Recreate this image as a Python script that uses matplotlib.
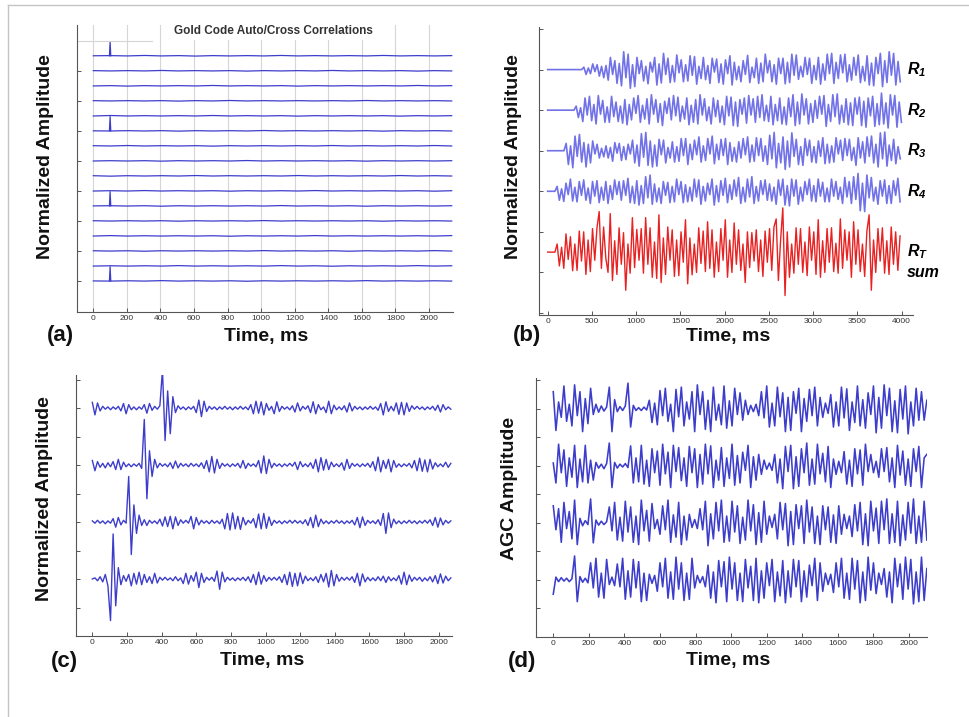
import numpy as np
import matplotlib
matplotlib.use('Agg')
import matplotlib.pyplot as plt
from matplotlib.lines import Line2D

plt.rcParams['font.family'] = ['Liberation Sans', 'DejaVu Sans']
plt.rcParams['mathtext.fontset'] = 'custom'
plt.rcParams['mathtext.it'] = 'Liberation Sans:italic:bold'
plt.rcParams['mathtext.rm'] = 'Liberation Sans:italic:bold'
plt.rcParams['mathtext.bf'] = 'Liberation Sans:italic:bold'

# ======================= DATA =======================
# (a) Gold code auto/cross correlations: 16 traces, small residual wiggle
#     (hundredths of trace spacing), auto-correlation peaks on 4 rows
gold_title = 'Gold Code Auto/Cross Correlations'
gold_end_ms = 2135
gold_peak_rows = [0, 5, 10, 15]
gold_peak_ms = 100
gold_peak_height = 0.95
gold_xticks = list(range(0, 2001, 200))
gold_wiggle = [
    [0, 1, -1, 2, -1, 1, -2, 1, -1, 1, -1, 2, -1, 1, -1, 1, -1, 2, -1, 1, -1, 1],
    [1, -1, 1, -1, 2, -1, 1, -1, 1, -2, 1, -1, 1, -1, 2, -1, 1, -1, 1, -2, 1, -1],
    [-1, 1, -2, 1, -1, 1, -1, 2, -1, 1, -1, 1, -2, 1, -1, 1, -1, 1, -1, 2, -1, 1],
    [1, -1, 1, -1, 1, -2, 1, -1, 2, -1, 1, -1, 1, -1, 1, -1, 2, -1, 1, -1, 1, -1],
    [-1, 2, -1, 1, -1, 1, -1, 2, -1, 1, -1, 1, -2, 1, -1, 1, -1, 1, -2, 1, -1, 1],
    [0, -1, 1, -1, 1, -2, 1, -1, 1, -1, 2, -1, 1, -1, 1, -1, 1, -2, 1, -1, 1, -1],
    [1, -1, 2, -1, 1, -1, 1, -2, 1, -1, 1, -1, 1, -1, 2, -1, 1, -1, 1, -1, 2, -1],
    [-1, 1, -1, 1, -2, 1, -1, 1, -1, 2, -1, 1, -1, 1, -1, 1, -2, 1, -1, 1, -1, 1],
    [1, -2, 1, -1, 1, -1, 2, -1, 1, -1, 1, -1, 2, -1, 1, -1, 1, -1, 2, -1, 1, -1],
    [-1, 1, -1, 2, -1, 1, -1, 1, -2, 1, -1, 1, -1, 2, -1, 1, -1, 1, -1, 1, -2, 1],
    [0, 1, -1, 1, -2, 1, -1, 1, -1, 1, -1, 2, -1, 1, -1, 1, -2, 1, -1, 1, -1, 1],
    [1, -1, 1, -1, 1, -2, 1, -1, 1, -1, 2, -1, 1, -1, 1, -1, 1, -2, 1, -1, 1, -1],
    [-1, 2, -1, 1, -1, 1, -1, 1, -2, 1, -1, 1, -1, 2, -1, 1, -1, 1, -1, 1, -1, 2],
    [1, -1, 1, -2, 1, -1, 1, -1, 1, -1, 2, -1, 1, -1, 1, -2, 1, -1, 1, -1, 2, -1],
    [-1, 1, -1, 1, -1, 2, -1, 1, -1, 1, -1, 2, -1, 1, -2, 1, -1, 1, -1, 2, -1, 1],
    [0, -1, 1, -1, 2, -1, 1, -1, 1, -2, 1, -1, 1, -1, 1, -1, 2, -1, 1, -1, 1, -1],
]

# (b) four receiver traces R1..R4 and their sum RT (hundredths of tick spacing)
b_labels = ['$R_1$', '$R_2$', '$R_3$', '$R_4$', '$R_T$']
b_sum_label = 'sum'
b_start_ms = [384, 297, 184, 82, 82]
b_step_ms = 25
b_xticks = list(range(0, 4001, 500))
r1 = [0, 6, -12, 4, -10, 14, -5, 12, -16, 8,
      -20, 10, -26, 30, -12, 22, -34, 15, -40, 44,
      -20, 38, -46, 12, -42, 30, -10, 22, -28, 8,
      -35, 18, -6, 30, -38, 14, -33, 40, -12, 28,
      -32, 10, -30, 36, -8, 24, -30, 12, -28, 34,
      -14, 32, -36, 8, -22, 30, -25, 10, -34, 28,
      -6, 26, -32, 14, -36, 24, -10, 34, -38, 18,
      -25, 8, -30, 22, -12, 35, -32, 6, -20, 28,
      -34, 16, -30, 38, -8, 22, -30, 12, -36, 28,
      -10, 28, -35, 18, -32, 38, -14, 36, -24, 8,
      -18, 30, -12, 28, -34, 10, -25, 30, -36, 14,
      -26, 38, -10, 40, -34, 18, -22, 36, -8, 38,
      -30, 12, -26, 30, -14, 36, -32, 8, -28, 34,
      -38, 16, -40, 30, -10, 40, -42, 22, -32, 44,
      -14, 40, -38, 20, -30]
r2 = [0, 10, -18, 6, -28, 30, -12, 34, -26, 14,
      -34, 36, -10, 24, -30, 8, -30, 34, -16, 20,
      -28, 10, -32, 26, -36, 14, -24, 30, -8, 36,
      -30, 12, -22, 28, -34, 38, -10, 26, -30, 16,
      -38, 22, -8, 30, -24, 36, -14, 32, -28, 10,
      -22, 30, -36, 12, -30, 26, -34, 38, -12, 28,
      -26, 8, -34, 30, -16, 24, -30, 10, -36, 34,
      -14, 32, -38, 20, -40, 26, -10, 30, -32, 36,
      -12, 28, -30, 34, -18, 38, -26, 12, -28, 34,
      -36, 14, -26, 30, -34, 8, -36, 30, -16, 38,
      -38, 20, -34, 40, -12, 28, -34, 16, -30, 24,
      -20, 34, -10, 36, -40, 14, -28, 38, -16, 40,
      -34, 12, -30, 28, -36, 18, -38, 30, -10, 32,
      -38, 22, -42, 30, -14, 34, -40, 16, -36, 42,
      -34, 18, -44, 38, -12, 36, -42, 20, -30]
r3 = [0, 18, -34, 12, -42, 36, -14, 40, -28, 20,
      -40, 16, -30, 24, -8, 16, -18, 6, -15, 12,
      -18, 8, -26, 20, -6, 18, -24, 10, -22, 16,
      -8, 26, -30, 14, -38, 42, -16, 45, -36, 24,
      -40, 14, -38, 28, -10, 26, -30, 8, -18, 22,
      -28, 10, -26, 30, -12, 30, -34, 16, -22, 26,
      -10, 34, -28, 12, -24, 30, -8, 36, -32, 16,
      -22, 28, -12, 30, -34, 20, -26, 8, -28, 22,
      -18, 30, -10, 34, -28, 14, -26, 32, -12, 30,
      -26, 12, -34, 38, -20, 45, -42, 18, -30, 34,
      -46, 24, -40, 44, -14, 28, -34, 10, -36, 30,
      -12, 26, -28, 10, -30, 24, -14, 32, -32, 16,
      -30, 12, -28, 32, -8, 26, -24, 30, -12, 28,
      -24, 8, -36, 32, -18, 22, -30, 34, -14, 36,
      -30, 16, -40, 44, -20, 46, -38, 14, -24, 28,
      -32, 10, -20]
r4 = [0, 12, -22, 6, -25, 20, -8, 30, -24, 10,
      -26, 24, -10, 28, -22, 8, -30, 24, -12, 26,
      -28, 10, -22, 24, -30, 14, -20, 28, -8, 24,
      -22, 26, -10, 32, -28, 12, -30, 26, -34, 14,
      -30, 36, -16, 40, -32, 18, -26, 8, -30, 24,
      -10, 22, -28, 12, -26, 30, -8, 24, -28, 16,
      -26, 10, -24, 30, -14, 28, -32, 12, -24, 20,
      -8, 30, -34, 14, -26, 26, -10, 32, -28, 16,
      -20, 28, -12, 34, -30, 10, -26, 30, -14, 36,
      -30, 12, -24, 26, -8, 28, -22, 18, -24, 10,
      -32, 28, -10, 30, -34, 14, -36, 30, -12, 28,
      -32, 10, -24, 24, -8, 30, -24, 14, -26, 30,
      -12, 22, -26, 8, -26, 30, -12, 24, -20, 10,
      -30, 34, -14, 24, -30, 36, -20, 44, -48, 20,
      -50, 40, -16, 34, -24, 10, -32, 26, -12, 28,
      -30, 14, -30, 26, -10, 32, -26]
rt = [0, 20, -34, 12, -40, 45, -18, 38, -46, 20,
      -45, 52, -22, 50, -55, 30, -48, 58, -20, 60,
      100, -40, 62, -15, -50, 95, -70, 28, -55, 60,
      -30, 48, -94, 20, -52, 85, -38, 56, -20, 58,
      -52, 85, -30, 60, -62, 25, -65, 92, -75, 35,
      -55, 62, -20, 55, -60, 30, -58, 50, -25, 80,
      -78, 35, -56, 20, -50, 60, -28, 52, -48, 75,
      -40, 55, -62, 25, -48, 58, -20, 80, -62, 30,
      -50, 72, -30, 55, -45, 20, -75, 50, -38, 48,
      -22, 55, -48, 30, -60, 52, -25, 58, -45, 62,
      82, -70, 30, 109, -107, 50, -62, 20, -52, 60,
      -30, 58, -50, 25, -58, 62, -20, 50, -55, 80,
      -62, 28, -50, 58, -25, 60, -48, 22, -52, 82,
      -40, 55, -20, 50, -62, 75, -30, 55, -48, 20,
      -60, 52, 92, -94, 30, -50, 58, -22, 60, -52,
      28, -55, 62, -30, 50, -45, 40]

# (c) cross-correlation traces, top to bottom (hundredths of a trace unit)
c_step_ms = 15
c_xticks = list(range(0, 2001, 200))
c1 = [10, -12, 9, -5, 3, -2, 2, -3, 2, -2,
      3, -5, 8, -10, 6, -3, 2, -3, 2, -2,
      6, -9, 8, -4, 3, -2, 4, 67, -57, 30,
      -45, 20, -8, 4, -2, 2, -3, 2, -2, 3,
      -8, 14, -15, 12, -6, 3, -2, 2, -3, 2,
      -2, 3, -2, 2, -3, 2, -2, 3, -2, 2,
      -3, 6, -10, 12, -9, 11, -12, 8, -4, 3,
      -10, 11, -6, 3, -2, 2, -3, 4, -7, 9,
      -5, 3, -2, 4, -8, 11, -10, 6, -3, 2,
      -8, 12, -10, 5, -3, 2, -3, 4, -7, 9,
      -5, 3, -2, 2, -3, 2, -2, 3, -2, 2,
      -4, 8, -12, 11, -6, 3, -5, 9, -11, 10,
      -12, 9, -6, 4, -2, 3, -2, 2, -3, 2,
      -2, 3, -4, 5, -7, 6, -3, 2, -2]
c2 = [8, -10, 6, -4, 3, -5, 4, -3, 6, -8,
      10, -8, 5, -3, 2, -3, 2, -2, 3, -6,
      80, -59, 25, -20, 10, -5, 3, -2, 2, -3,
      4, -6, 7, -5, 3, -2, 2, -3, 3, -2,
      2, -3, 4, -6, 8, -12, 15, -14, 10, -6,
      3, -2, 2, -3, 2, -2, 3, -5, 8, -6,
      3, -2, 2, -3, 8, -14, 16, -15, 10, -5,
      3, -2, 2, -3, 2, -2, 3, -2, 5, -8,
      6, -3, 2, -3, 4, -6, 10, -12, 13, -9,
      10, -8, 5, -3, 2, -3, 4, -9, 10, -6,
      3, -2, 2, -3, 2, -2, 3, -4, 6, -10,
      14, -12, 8, -6, 10, -12, 8, -4, 2, -3,
      2, -2, 3, -5, 8, -10, 12, -11, 9, -12,
      10, -7, 4, -3, 2, -3, 5, -4, 3]
c3 = [2, -2, 3, -2, 2, -3, 2, -2, 6, -9,
      8, -5, 3, -2, 80, -57, 30, -20, 12, -6,
      4, -6, 3, -2, 2, -3, 5, -7, 9, -8,
      10, -12, 9, -6, 4, -2, 3, -2, 10, -12,
      8, -5, 3, -2, 2, -3, 3, -2, 2, -3,
      5, -12, 15, -14, 16, -12, 10, -13, 8, -5,
      3, -2, 6, -10, 14, -12, 15, -11, 9, -6,
      3, -2, 2, -3, 2, -2, 3, -2, 3, -2,
      2, -3, 4, -6, 8, -10, 12, -8, 5, -3,
      2, -3, 2, -2, 3, -2, 2, -3, 2, -2,
      3, -5, 8, -10, 9, -6, 3, -2, 2, -3,
      4, -6, 15, -20, 16, -10, 5, -3, 2, -3,
      2, -2, 3, -2, 2, -3, 2, -2, 3, -2,
      4, -6, 8, -9, 7, -5, 3, -2, 2]
c4 = [0, 2, -3, 4, -5, 8, -12, -73, 79, -47,
      20, -10, 6, -4, 8, -12, 10, -9, 12, -10,
      8, -6, 4, -8, 10, -7, 3, -2, 3, -2,
      2, -3, 4, -3, 2, -8, 10, -9, 6, -4,
      12, -15, 10, -6, 3, -2, 3, -4, 14, -18,
      12, -5, 3, -2, 2, -3, 2, -2, 3, -3,
      4, -6, 8, -10, 12, -9, 6, -4, 3, -2,
      3, -2, 4, -6, 8, -10, 12, -13, 10, -12,
      11, -8, 5, -3, 2, -3, 4, -6, 8, -5,
      10, -14, 15, -12, 8, -4, 3, -2, 3, -2,
      4, -6, 10, -12, 9, -5, 3, -3, 2, -3,
      4, -3, 5, -6, 4, -3, 2, -3, 6, -9,
      12, -10, 7, -4, 3, -2, 3, -4, 2, -3,
      4, -5, 6, -8, 9, -7, 5, -3, 2]

# (d) AGC traces, top to bottom (hundredths of a trace unit)
d_step_ms = 15
d_xticks = list(range(0, 2001, 200))
d1 = [30, -38, 12, -15, 40, -22, 8, -30, 42, -12,
      30, -40, 18, -26, 36, -10, 8, -6, 5, -4,
      3, 38, -40, 16, -5, 4, -3, 5, 45, -32,
      6, -3, 2, -3, 3, -2, 15, -24, 10, -28,
      32, -12, 36, -22, 8, -40, 34, -14, 38, -30,
      12, -18, 30, -40, 42, -10, 30, -36, 15, -40,
      38, -20, 8, -28, 40, -34, 14, -30, 36, -10,
      28, -20, 15, -10, 6, -5, 8, -12, 30, -16,
      40, -32, 10, -30, 38, -14, 28, -40, 20, -38,
      30, -8, 36, -40, 18, -22, 34, -12, 38, -30,
      20, -15, 10, -8, 25, -32, 12, -30, 38, -16,
      35, -38, 12, -24, 40, -30, 16, -34, 28, -10,
      40, -42, 20, -34, 42, -12, 36, -40, 14, -42,
      34, -18, 40, -44, 12, -30, 36, -20, 30, -20, 15]
d2 = [5, -30, 38, -12, 28, -36, 14, -20, 36, -38,
      12, -28, 36, -30, 10, -25, 6, -4, 3, -5,
      4, 40, -38, 6, -4, 3, -2, 4, -3, 35,
      -30, 14, -28, 36, -32, 10, -36, 30, -12, 26,
      -34, 38, -14, 24, -38, 36, -10, 32, -26, 14,
      -36, 34, -12, 30, -38, 20, -32, 38, -14, 35,
      -38, 10, -25, 32, -36, 14, -22, 38, -34, 18,
      -30, 24, -8, 36, -38, 16, -25, 20, -15, 10,
      -6, 5, -8, 20, -30, 12, -40, 34, -10, 36,
      -40, 16, -36, 30, -12, 40, -34, 12, -32, 38,
      -14, 22, -28, 34, -38, 12, -15, 8, -12, 25,
      -32, 10, -36, 30, -14, 28, -34, 38, -10, 20,
      -12, 8, -20, 30, -10, 32, -28, 14, -38, 36,
      -16, 26, -34, 12, -36, 30, -10, 34, -38, 14, 20]
d3 = [30, -12, 25, -34, 36, -10, 20, -28, 40, -38,
      8, -5, 4, -3, 42, -35, 5, -4, 3, -3,
      2, 28, -14, 36, -30, 10, -32, 38, -16, 28,
      -34, 12, -38, 40, -14, 22, -32, 34, -10, 6,
      -20, 30, -12, 40, -34, 14, -25, 36, -38, 12,
      -30, 15, -8, 6, -10, 25, -12, 38, -40, 16,
      -28, 36, -14, 40, -34, 12, -32, 38, -16, 30,
      -36, 10, -30, 40, -14, 32, -38, 18, -34, 38,
      -20, 12, -8, 15, -28, 36, -12, 34, -40, 20,
      -38, 32, -10, 30, -36, 40, -16, 28, -36, 12,
      -38, 30, -12, 28, -34, 14, -36, 30, -20, 15,
      -10, 12, -24, 32, -14, 36, -38, 16, -40, 38,
      -14, 26, -36, 38, -12, 42, -36, 16, -34, 38,
      -40, 14, -30, 36, -18, 42, -36, 12, -34, 38, -30]
d4 = [-25, 5, -3, 4, -2, 3, -3, 2, 42, -38,
      6, -4, 3, -5, 30, -14, 38, -30, 12, -32,
      36, -8, 5, -10, 28, -12, 38, -34, 16, -30,
      36, -14, 32, -38, 12, -36, 10, -6, 8, -20,
      30, -12, 38, -32, 14, -34, 40, -16, 30, -36,
      12, -34, 38, -14, 8, -5, 6, -12, 26, -32,
      14, -40, 34, -12, 32, -38, 40, -16, 30, -36,
      12, -38, 36, -14, 24, -36, 38, -40, 16, -32,
      30, -10, 36, -38, 14, -28, 34, -40, 16, -30,
      36, -12, 34, -38, 16, -30, 26, -10, 38, -36,
      30, -20, 12, -8, 10, -22, 30, -12, 38, -32,
      12, -34, 38, -16, 34, -40, 14, -36, 40, -18,
      30, -24, 12, -8, 20, -30, 14, -40, 38, -12,
      28, -34, 40, -16, 36, -42, 14, -38, 40, -36, 20]

xlabel_text = 'Time, ms'
ylabel_norm = 'Normalized Amplitude'
ylabel_agc = 'AGC Amplitude'
panel_tags = ['(a)', '(b)', '(c)', '(d)']

# ======================= LAYOUT / STYLE =======================
W, H = 969, 717
fig = plt.figure(figsize=(W / 100, H / 100), dpi=100)
fig.patch.set_facecolor('white')

BLUE = '#3d3dcc'
LIGHT_BLUE = '#7272e8'
RED = '#e82222'
GRID = '#d6d6d6'
SPINE = '#555555'


def px_axes(left, top, right, bottom):
    return fig.add_axes([left / W, 1 - bottom / H, (right - left) / W, (bottom - top) / H])


def style(ax):
    for s in ('top', 'right'):
        ax.spines[s].set_visible(False)
    for s in ('left', 'bottom'):
        ax.spines[s].set_color(SPINE)
        ax.spines[s].set_linewidth(0.8)
    ax.tick_params(direction='in', length=3, width=0.7, colors=SPINE,
                   labelsize=6, labelcolor='#333333', pad=2.5)
    ax.set_yticklabels([])
    ax.patch.set_alpha(0)


def ftext(x, y, s, **kw):
    fig.text(x / W, 1 - y / H, s, ha='center', va='center', **kw)


# border lines of the slide
fig.add_artist(Line2D([8 / W, 1], [1 - 5 / H, 1 - 5 / H], transform=fig.transFigure,
                      color='#c4c4c4', lw=1.0))
fig.add_artist(Line2D([8 / W, 8 / W], [0, 1 - 5 / H], transform=fig.transFigure,
                      color='#c4c4c4', lw=1.0))

# ---------- (a) ----------
axA = px_axes(76.7, 25, 452.7, 312)
nA = len(gold_wiggle)
for i, w in enumerate(gold_wiggle):
    off = nA - i
    t = np.linspace(0, gold_end_ms, len(w))
    axA.plot(t, off + np.asarray(w) / 100.0, color=BLUE, lw=0.9)
    if i in gold_peak_rows:
        axA.plot([gold_peak_ms - 4, gold_peak_ms, gold_peak_ms + 4],
                 [off, off + gold_peak_height, off], color=BLUE, lw=0.9)
axA.set_xlim(-99, 2141)
axA.set_ylim(-1.07, 18.05)
axA.set_xticks(gold_xticks)
axA.set_yticks(np.arange(1, nA + 2, 2))
axA.grid(axis='x', color=GRID, lw=0.8)
axA.set_axisbelow(True)
axA.axhline(nA + 1, xmin=0, xmax=0.2, color=GRID, lw=0.8)
style(axA)
ftext(273, 31, gold_title, fontsize=8.5, fontweight='bold', color='#333333',
      bbox=dict(facecolor='white', edgecolor='none', pad=2.5))

# ---------- (b) ----------
axB = px_axes(539, 27, 913, 315)
b_traces = [r1, r2, r3, r4, rt]
b_offsets = [6, 5, 4, 3, 1.5]
for vals, st, off, lab in zip(b_traces, b_start_ms, b_offsets, b_labels):
    t = np.concatenate([[0], st + b_step_ms * np.arange(len(vals))])
    y = off + np.concatenate([[0], np.asarray(vals) / 100.0])
    is_sum = lab == b_labels[-1]
    axB.plot(t, y, color=RED if is_sum else LIGHT_BLUE, lw=1.0 if is_sum else 1.2)
    axB.text(4060, off, lab, fontsize=11.5, ha='left', va='center', clip_on=False)
axB.text(4060, b_offsets[-1] - 0.5, b_sum_label, fontsize=11.5, fontweight='bold',
         fontstyle='italic', ha='left', va='center', clip_on=False)
axB.set_xlim(-98, 4128)
axB.set_ylim(-0.05, 7.05)
axB.set_xticks(b_xticks)
axB.set_yticks(np.arange(0, 8, 1))
style(axB)

# ---------- (c) ----------
axC = px_axes(75.7, 375, 451.7, 636)
c_traces = [c1, c2, c3, c4]
for i, vals in enumerate(c_traces):
    off = len(c_traces) - i
    t = c_step_ms * np.arange(len(vals))
    axC.plot(t, off + np.asarray(vals) / 100.0, color=BLUE, lw=1.0)
axC.set_xlim(-96, 2075)
axC.set_ylim(0, 4.58)
axC.set_xticks(c_xticks)
axC.set_yticks(np.arange(0.5, 4.6, 0.5))
style(axC)

# ---------- (d) ----------
axD = px_axes(536, 378, 927, 637)
d_traces = [d1, d2, d3, d4]
for i, vals in enumerate(d_traces):
    off = len(d_traces) - i
    t = d_step_ms * np.arange(len(vals))
    axD.plot(t, off + np.asarray(vals) / 100.0, color=BLUE, lw=1.15)
axD.set_xlim(-97, 2101)
axD.set_ylim(0, 4.54)
axD.set_xticks(d_xticks)
axD.set_yticks(np.arange(0.5, 4.6, 0.5))
style(axD)

# ---------- labels ----------
LBL = dict(fontsize=14, fontweight='bold', color='#111111')
TAG = dict(fontsize=16, fontweight='bold', color='#111111')
ftext(45.5, 157, ylabel_norm, rotation=90, **LBL)
ftext(514, 157, ylabel_norm, rotation=90, **LBL)
ftext(44.5, 499, ylabel_norm, rotation=90, **LBL)
ftext(510, 488, ylabel_agc, rotation=90, **LBL)
ftext(266, 336, xlabel_text, **LBL)
ftext(728, 336, xlabel_text, **LBL)
ftext(262, 660, xlabel_text, **LBL)
ftext(728, 660, xlabel_text, **LBL)
ftext(60, 336, panel_tags[0], **TAG)
ftext(527, 336, panel_tags[1], **TAG)
ftext(64.5, 662, panel_tags[2], **TAG)
ftext(522, 662, panel_tags[3], **TAG)

fig.savefig('out.png', dpi=100, facecolor='white')
